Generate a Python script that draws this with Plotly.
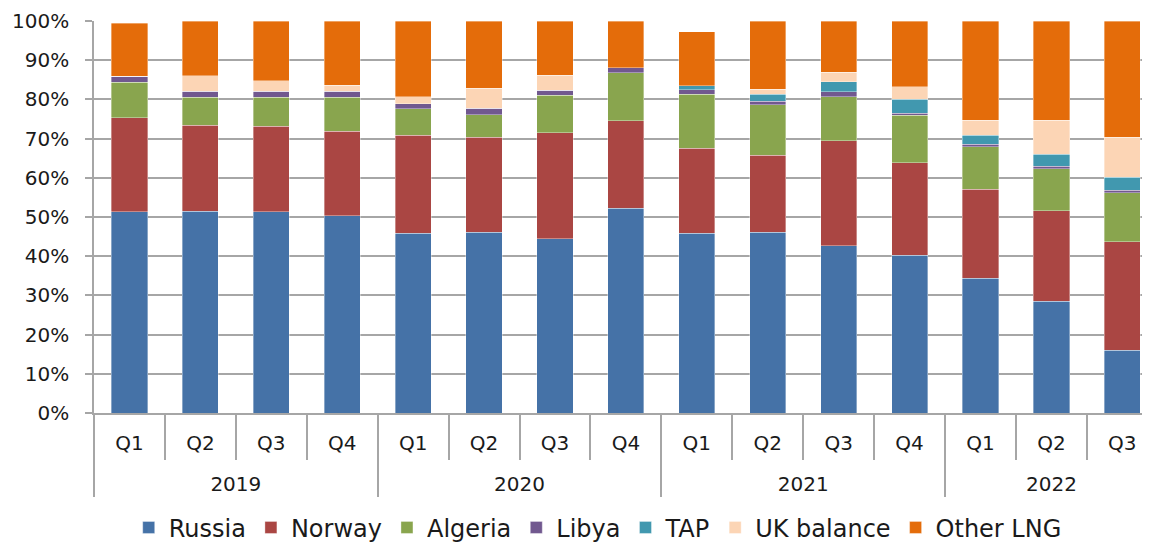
import plotly.graph_objects as go

years = ["2019"] * 4 + ["2020"] * 4 + ["2021"] * 4 + ["2022"] * 3
quarters = ["Q1", "Q2", "Q3", "Q4"] * 3 + ["Q1", "Q2", "Q3"]

russia = [51.3, 51.5, 51.3, 50.3, 45.8, 46.1, 44.5, 52.2, 45.8, 46.1, 42.7, 40.3, 34.4, 28.5, 16.0]
norway = [24.0, 21.9, 21.8, 21.6, 25.1, 24.2, 27.0, 22.4, 21.7, 19.7, 26.7, 23.6, 22.7, 23.1, 27.7]
algeria = [9.1, 7.1, 7.4, 8.6, 6.7, 5.8, 9.5, 12.2, 13.8, 12.8, 11.3, 12.0, 10.8, 10.7, 12.5]
libya = [1.5, 1.6, 1.6, 1.6, 1.3, 1.6, 1.3, 1.3, 1.1, 0.9, 1.3, 0.6, 0.6, 0.7, 0.6]
tap = [0, 0, 0, 0, 0, 0, 0, 0, 1.1, 1.8, 2.5, 3.6, 2.4, 3.0, 3.4]
uk_balance = [0, 3.9, 2.6, 1.5, 1.8, 5.1, 3.9, 0, 0, 1.3, 2.4, 3.1, 3.8, 8.7, 10.2]
other_lng = [13.5, 14.0, 15.3, 16.4, 19.3, 17.2, 13.8, 11.9, 13.8, 17.4, 13.1, 16.8, 25.3, 25.3, 29.6]

series = [
    ("Russia", russia, "#4572A7"),
    ("Norway", norway, "#AA4643"),
    ("Algeria", algeria, "#89A54E"),
    ("Libya", libya, "#71588F"),
    ("TAP", tap, "#4198AF"),
    ("UK balance", uk_balance, "#FCD5B5"),
    ("Other LNG", other_lng, "#E46C0A"),
]

FONT = "DejaVu Sans"
GRID = "#A6A6A6"

# inner labels get an extra blank line so the year row sits lower
quarter_labels = [q + "<br>\u00a0" for q in quarters]

fig = go.Figure()
for name, vals, color in series:
    fig.add_trace(go.Bar(
        x=[years, quarter_labels], y=vals, name=name,
        marker=dict(color=color, line=dict(color="rgba(255,255,255,0.6)", width=0.6)),
    ))

# page has an 8px body margin, so the figure is sized to fit the window
fig.update_layout(
    barmode="stack",
    bargap=0.49,
    width=1142, height=535,
    margin=dict(l=86, r=0, t=13, b=130, autoexpand=False),
    paper_bgcolor="white", plot_bgcolor="white",
    font=dict(family=FONT, size=20, color="#1a1a1a"),
    legend=dict(orientation="h", x=0.477, xanchor="center", y=-0.293, yanchor="middle",
                font=dict(family=FONT, size=24), traceorder="normal", itemwidth=30),
    showlegend=True,
)
fig.update_yaxes(
    range=[0, 100], dtick=10, ticksuffix="%",
    showgrid=True, gridcolor=GRID, gridwidth=1.5,
    showline=True, linecolor=GRID, linewidth=1.5,
    ticks="outside", ticklen=7, tickcolor=GRID, tickwidth=1.5,
    ticklabelstandoff=12,
    tickfont=dict(family=FONT, size=20), zeroline=False, automargin=False,
)
fig.update_xaxes(
    type="multicategory",
    range=[-0.5, 14.39],
    showline=True, linecolor=GRID, linewidth=1.5,
    ticks="outside", ticklen=45, tickcolor=GRID, tickwidth=1.5,
    showdividers=True, dividercolor=GRID, dividerwidth=1.5,
    ticklabelstandoff=11,
    tickfont=dict(family=FONT, size=20), automargin=False,
)

fig.write_html("out.html")
